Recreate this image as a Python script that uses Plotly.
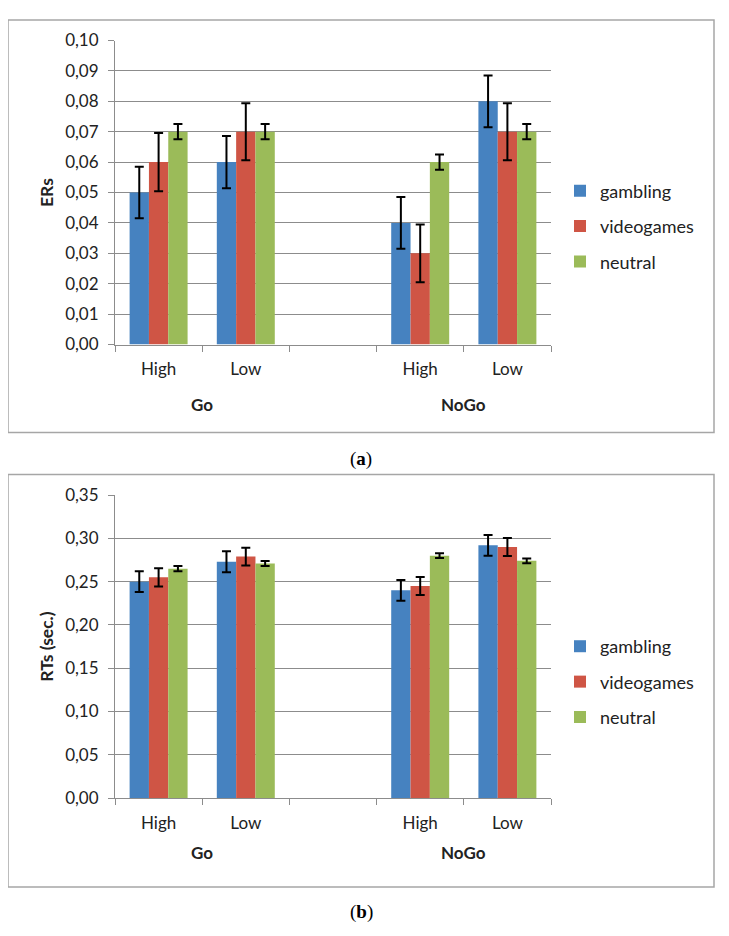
import plotly.graph_objects as go

W, H = 729, 936
OFF = 8  # the page body adds an 8px margin; positions below are in reference pixels

series = ["gambling", "videogames", "neutral"]
colors = ["#4682C0", "#CF5545", "#9BBB59"]
slot_labels = ["High", "Low", "", "High", "Low"]
slot_pos = [0, 1, 3, 4]
groups = ["Go", "NoGo"]
group_pos = [0.5, 3.5]

# Panel (a): error rates
er_values = {
    "gambling":   [0.05, 0.06, 0.04, 0.08],
    "videogames": [0.06, 0.07, 0.03, 0.07],
    "neutral":    [0.07, 0.07, 0.06, 0.07],
}
er_errors = {
    "gambling":   [0.0085, 0.0086, 0.0085, 0.0085],
    "videogames": [0.0096, 0.0094, 0.0095, 0.0094],
    "neutral":    [0.0025, 0.0025, 0.0025, 0.0025],
}
# Panel (b): reaction times
rt_values = {
    "gambling":   [0.250, 0.273, 0.240, 0.292],
    "videogames": [0.255, 0.279, 0.245, 0.290],
    "neutral":    [0.265, 0.271, 0.280, 0.274],
}
rt_errors = {
    "gambling":   [0.012, 0.012, 0.012, 0.012],
    "videogames": [0.0105, 0.0103, 0.0103, 0.0105],
    "neutral":    [0.003, 0.0028, 0.0028, 0.0027],
}

FONT = "Lato, 'Open Sans', sans-serif"
GRID = "#8C8C8C"

def px_x(p):
    return (p - OFF) / W

def px_y(p):
    return 1 - (p - OFF) / H

fig = go.Figure()

for i, s in enumerate(series):
    fig.add_trace(go.Bar(
        x=slot_pos, y=er_values[s], name=s, marker_color=colors[i], marker_line_width=0,
        error_y=dict(type="data", array=er_errors[s], color="black", thickness=2, width=4.5),
        xaxis="x", yaxis="y", legend="legend", legendgroup="a" + s,
    ))
for i, s in enumerate(series):
    fig.add_trace(go.Bar(
        x=slot_pos, y=rt_values[s], name=s, marker_color=colors[i], marker_line_width=0,
        error_y=dict(type="data", array=rt_errors[s], color="black", thickness=2, width=4.5),
        xaxis="x2", yaxis="y2", legend="legend2", legendgroup="b" + s,
    ))

x_dom = [px_x(115), px_x(551)]
ya_dom = [px_y(341), px_y(30)]
yb_dom = [px_y(805), px_y(495)]

def xaxis_cfg(anchor):
    return dict(
        domain=x_dom, anchor=anchor, range=[-0.5, 4.5],
        tickmode="array", tickvals=list(range(5)), ticktext=slot_labels,
        ticks="", ticklen=0, showgrid=False, zeroline=False,
        showline=True, linecolor=GRID, linewidth=1,
        tickfont=dict(family=FONT, size=17, color="#222"),
        ticklabelstandoff=9,
        minor=dict(tickvals=[-0.5, 0.5, 1.5, 2.5, 3.5, 4.5], ticks="outside",
                   ticklen=6, tickcolor=GRID, tickwidth=1, showgrid=False),
        fixedrange=True,
    )

def yaxis_cfg(anchor, dom, rng, dtick, title):
    return dict(
        domain=dom, anchor=anchor, range=rng, dtick=dtick, tick0=0,
        tickformat=".2f", showgrid=True, gridcolor=GRID, gridwidth=1,
        showline=True, linecolor=GRID, linewidth=1,
        ticks="outside", ticklen=6, tickcolor=GRID,
        zeroline=False,
        tickfont=dict(family=FONT, size=17, color="#222"),
        ticklabelstandoff=6,
        title=dict(text="<b>" + title + "</b>", font=dict(family=FONT, size=17.5, color="#222"),
                   standoff=7),
        fixedrange=True,
    )

legend_common = dict(
    font=dict(family=FONT, size=18, color="#222"),
    bgcolor="rgba(0,0,0,0)", tracegroupgap=9,
    xanchor="left", yanchor="top", itemclick=False,
)

fig.update_layout(
    width=W, height=H,
    margin=dict(l=0, r=0, t=0, b=0),
    paper_bgcolor="white", plot_bgcolor="white",
    separators=", ",
    barmode="group", bargap=0.335, bargroupgap=0,
    xaxis=xaxis_cfg("y"),
    yaxis=yaxis_cfg("x", ya_dom, [0, 0.1], 0.01, "ERs"),
    xaxis2=xaxis_cfg("y2"),
    yaxis2=yaxis_cfg("x2", yb_dom, [0, 0.35], 0.05, "RTs (sec.)"),
    legend=dict(x=px_x(560), y=px_y(165), **legend_common),
    legend2=dict(x=px_x(560), y=px_y(631), **legend_common),
    showlegend=True,
)

# panel borders
for top, bot in [(9, 431), (474, 896)]:
    fig.add_shape(type="rect", xref="paper", yref="paper",
                  x0=px_x(8), x1=px_x(714), y0=px_y(bot), y1=px_y(top),
                  line=dict(color="#A6A6A6", width=1.5), fillcolor="rgba(0,0,0,0)")

# group labels under the categories
for xa, ypx in [("x", 402), ("x2", 861)]:
    for g, gp in zip(groups, group_pos):
        fig.add_annotation(x=gp, xref=xa, y=px_y(ypx), yref="paper", text="<b>" + g + "</b>",
                           showarrow=False, font=dict(family=FONT, size=17, color="#222"),
                           xanchor="center", yanchor="middle")

# captions
for cap, ypx in [("a", 458), ("b", 921)]:
    fig.add_annotation(x=px_x(361), xref="paper", y=px_y(ypx), yref="paper",
                       text="(<b>" + cap + "</b>)", showarrow=False,
                       font=dict(family="Liberation Serif, serif", size=19, color="black"),
                       xanchor="center", yanchor="middle")

fig.write_html("out.html")
